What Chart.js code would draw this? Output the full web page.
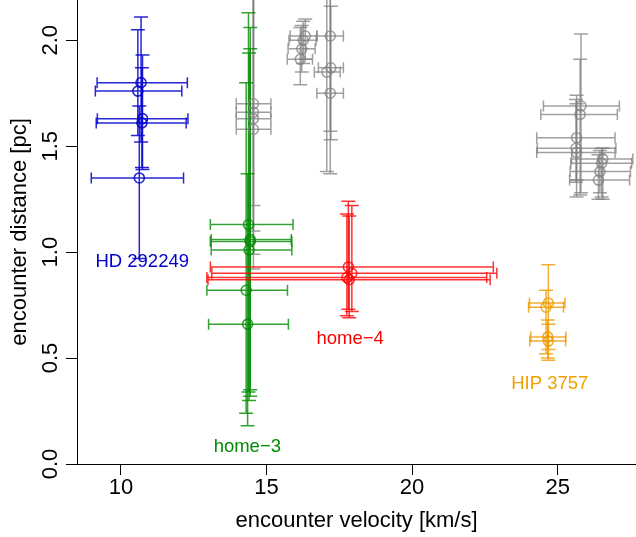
<!DOCTYPE html>
<html>
<head>
  <title>encounter distance vs velocity</title>
  <meta charset="utf-8" />
  <style>
    body { margin: 0; background: #fff; }
    #chart-canvas { display: block; }
  </style>
</head>
<body>
  <canvas id="chart-canvas" width="636" height="537"></canvas>

  <script src="https://cdn.jsdelivr.net/npm/chart.js"></script>
  <script>
    // other stars (gray)
    const grayVel    = [14.55, 14.55, 14.55, 14.55, 16.33, 16.26, 16.21, 16.16, 17.19, 17.21, 17.07, 17.19, 25.80, 25.77, 25.65, 25.63, 25.65, 26.55, 26.51, 26.45, 26.40];
    const grayVelLo  = [13.96, 13.96, 13.96, 13.96, 15.81, 15.77, 15.74, 15.71, 16.73, 16.78, 16.64, 16.73, 24.51, 24.42, 24.28, 24.30, 24.28, 25.48, 25.45, 25.43, 25.41];
    const grayVelHi  = [15.15, 15.15, 15.15, 15.15, 16.73, 16.70, 16.67, 16.58, 17.64, 17.64, 17.53, 17.64, 27.12, 27.05, 26.97, 27.00, 26.97, 27.58, 27.54, 27.50, 27.47];
    const grayDist   = [1.70, 1.66, 1.63, 1.58, 2.02, 2.00, 1.96, 1.91, 2.02, 1.87, 1.85, 1.75, 1.69, 1.65, 1.54, 1.49, 1.47, 1.44, 1.42, 1.38, 1.34];
    const grayDistLo = [1.22, 1.10, 0.99, 0.92, 1.91, 1.89, 1.85, 1.79, 1.57, 1.53, 1.38, 1.37, 1.28, 1.27, 1.26, 1.33, 1.34, 1.25, 1.26, 1.28, 1.25];
    const grayDistHi = [2.60, 2.50, 2.40, 2.45, 2.10, 2.09, 2.07, 2.06, 2.50, 2.16, 2.40, 2.50, 2.03, 1.91, 1.74, 1.72, 1.70, 1.49, 1.49, 1.48, 1.46];

    // HD 292249 (blue)
    const hdVel    = [10.69, 10.58, 10.74, 10.72, 10.63];
    const hdVelLo  = [9.18, 9.12, 9.19, 9.15, 8.98];
    const hdVelHi  = [12.28, 12.09, 12.30, 12.24, 12.15];
    const hdDist   = [1.80, 1.76, 1.63, 1.61, 1.35];
    const hdDistLo = [1.52, 1.55, 1.39, 1.40, 0.97];
    const hdDistHi = [2.11, 2.05, 1.93, 1.87, 1.69];

    // home-3 (green)
    const h3Vel    = [14.38, 14.44, 14.44, 14.40, 14.30, 14.35];
    const h3VelLo  = [13.07, 13.10, 13.07, 13.10, 12.95, 13.01];
    const h3VelHi  = [15.91, 15.85, 15.87, 15.87, 15.72, 15.75];
    const h3Dist   = [1.13, 1.06, 1.05, 1.01, 0.82, 0.66];
    const h3DistLo = [0.34, 0.35, 0.32, 0.30, 0.24, 0.18];
    const h3DistHi = [2.13, 2.06, 1.96, 1.94, 1.80, 1.37];

    // home-4 (red)
    const h4Vel    = [17.81, 17.93, 17.76, 17.84];
    const h4VelLo  = [13.07, 13.12, 12.95, 12.99];
    const h4VelHi  = [22.79, 22.91, 22.56, 22.68];
    const h4Dist   = [0.93, 0.90, 0.88, 0.87];
    const h4DistLo = [0.73, 0.72, 0.70, 0.69];
    const h4DistHi = [1.24, 1.22, 1.18, 1.17];

    // HIP 3757 (orange)
    const hipVel    = [24.68, 24.60, 24.66, 24.68];
    const hipVelLo  = [24.03, 24.00, 24.08, 24.04];
    const hipVelHi  = [25.25, 25.20, 25.28, 25.27];
    const hipDist   = [0.76, 0.74, 0.60, 0.58];
    const hipDistLo = [0.54, 0.52, 0.50, 0.49];
    const hipDistHi = [0.94, 0.82, 0.68, 0.66];

    // group names and where they are written (data coords)
    const groupNames = ['HD 292249', 'home\u22123', 'home\u22124', 'HIP 3757'];
    const nameVel    = [10.73, 14.34, 17.87, 24.73];
    const nameDist   = [0.953, 0.083, 0.589, 0.376];
    const nameColors = ['#0000cd', '#008b00', '#ff0000', '#eea000'];

    const velTicks  = [10, 15, 20, 25];
    const distTicks = [0, 0.5, 1, 1.5, 2];

    const FONT = '"Liberation Sans", Arial, sans-serif';

    function makePoints(v, vlo, vhi, d, dlo, dhi) {
      return v.map((val, i) => ({x: val, y: d[i], xMin: vlo[i], xMax: vhi[i], yMin: dlo[i], yMax: dhi[i]}));
    }

    function makeSet(label, color, pts) {
      return {
        label: label,
        data: pts,
        borderColor: color,
        backgroundColor: 'rgba(0,0,0,0)',
        pointRadius: 5,
        pointBorderWidth: 1.6,
        pointHoverRadius: 5
      };
    }

    // error bars with caps, drawn under the circles
    const errorBars = {
      id: 'errorBars',
      beforeDatasetsDraw(chart) {
        const {ctx, chartArea: a, scales: {x, y}} = chart;
        ctx.save();
        ctx.beginPath();
        ctx.rect(a.left, a.top, a.right - a.left, a.bottom - a.top);
        ctx.clip();
        ctx.lineWidth = 1.5;
        chart.data.datasets.forEach(ds => {
          ctx.strokeStyle = ds.borderColor;
          ds.data.forEach(p => {
            const px = x.getPixelForValue(p.x), py = y.getPixelForValue(p.y);
            const x0 = x.getPixelForValue(p.xMin), x1 = x.getPixelForValue(p.xMax);
            const y0 = y.getPixelForValue(p.yMin), y1 = y.getPixelForValue(p.yMax);
            ctx.beginPath();
            ctx.moveTo(x0, py); ctx.lineTo(x1, py);
            ctx.moveTo(x0, py - 5.5); ctx.lineTo(x0, py + 5.5);
            ctx.moveTo(x1, py - 5.5); ctx.lineTo(x1, py + 5.5);
            ctx.moveTo(px, y0); ctx.lineTo(px, y1);
            ctx.moveTo(px - 7, y0); ctx.lineTo(px + 7, y0);
            ctx.moveTo(px - 7, y1); ctx.lineTo(px + 7, y1);
            ctx.stroke();
          });
        });
        ctx.restore();
      }
    };

    const groupLabels = {
      id: 'groupLabels',
      afterDatasetsDraw(chart) {
        const {ctx, scales: {x, y}} = chart;
        ctx.save();
        ctx.font = '18.5px ' + FONT;
        ctx.textAlign = 'center';
        ctx.textBaseline = 'middle';
        groupNames.forEach((n, i) => {
          ctx.fillStyle = nameColors[i];
          ctx.fillText(n, x.getPixelForValue(nameVel[i]), y.getPixelForValue(nameDist[i]));
        });
        ctx.restore();
      }
    };

    const ctx = document.getElementById('chart-canvas').getContext('2d');
    new Chart(ctx, {
      type: 'scatter',
      data: {
        datasets: [
          makeSet('other', 'rgba(128,128,128,0.75)', makePoints(grayVel, grayVelLo, grayVelHi, grayDist, grayDistLo, grayDistHi)),
          makeSet('home-3', 'rgba(0,139,0,0.8)', makePoints(h3Vel, h3VelLo, h3VelHi, h3Dist, h3DistLo, h3DistHi)),
          makeSet('HD 292249', 'rgba(0,0,205,0.85)', makePoints(hdVel, hdVelLo, hdVelHi, hdDist, hdDistLo, hdDistHi)),
          makeSet('home-4', 'rgba(255,0,0,0.8)', makePoints(h4Vel, h4VelLo, h4VelHi, h4Dist, h4DistLo, h4DistHi)),
          makeSet('HIP 3757', 'rgba(238,154,0,0.8)', makePoints(hipVel, hipVelLo, hipVelHi, hipDist, hipDistLo, hipDistHi))
        ]
      },
      options: {
        responsive: false,
        devicePixelRatio: 1,
        animation: false,
        layout: {padding: 0, autoPadding: false},
        plugins: {legend: {display: false}, tooltip: {enabled: false}},
        scales: {
          x: {
            type: 'linear',
            min: 8.49,
            max: 27.69,
            afterBuildTicks: s => { s.ticks = velTicks.map(v => ({value: v})); },
            afterFit: s => { s.height = 73; s.paddingLeft = 0; s.paddingRight = 0; },
            grid: {drawOnChartArea: false, drawTicks: true, tickLength: 11, color: '#000', lineWidth: 1},
            border: {display: true, color: '#000', width: 1},
            ticks: {font: {family: FONT, size: 22}, color: '#000', padding: 0, maxRotation: 0},
            title: {display: true, text: 'encounter velocity [km/s]', font: {family: FONT, size: 22}, color: '#000', padding: {top: 3, bottom: 3}}
          },
          y: {
            type: 'linear',
            min: 0,
            max: 2.19,
            afterBuildTicks: s => { s.ticks = distTicks.map(v => ({value: v})); },
            afterFit: s => { s.width = 77; s.paddingTop = 0; s.paddingBottom = 0; },
            grid: {drawOnChartArea: false, drawTicks: true, tickLength: 11, color: '#000', lineWidth: 1},
            border: {display: true, color: '#000', width: 1},
            ticks: {font: {family: FONT, size: 22}, color: '#000', padding: 0, minRotation: 90, maxRotation: 90,
                    crossAlign: 'center', callback: v => v.toFixed(1)},
            title: {display: true, text: 'encounter distance [pc]', font: {family: FONT, size: 22}, color: '#000', padding: {top: 7, bottom: 7}}
          }
        }
      },
      plugins: [errorBars, groupLabels]
    });
  </script>
</body>
</html>
